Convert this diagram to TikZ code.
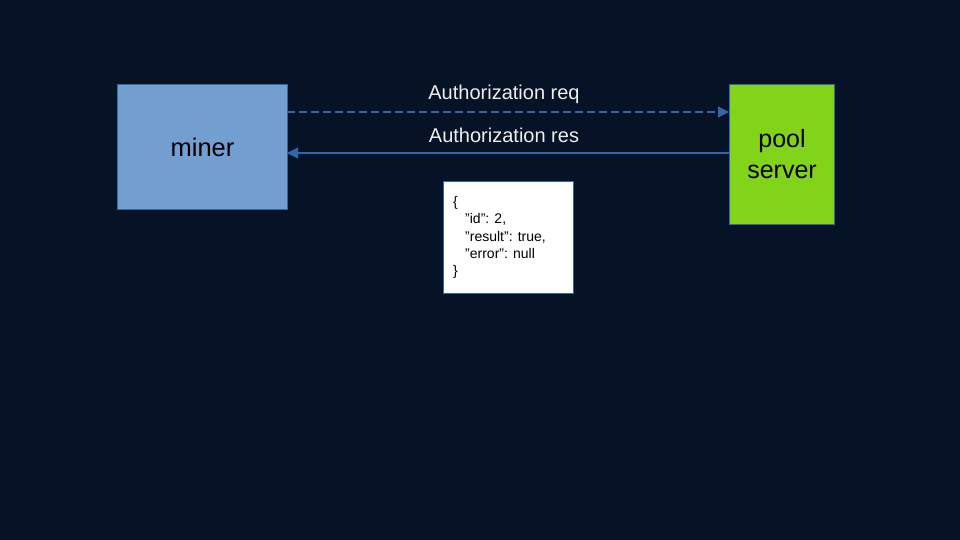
\documentclass[tikz,border=0pt]{standalone}
\usepackage{fontspec}
\setmainfont{Liberation Sans}
\usetikzlibrary{arrows.meta}
\definecolor{bg}{HTML}{061326}
\definecolor{minerfill}{HTML}{729FCF}
\definecolor{poolfill}{HTML}{81D41A}
\definecolor{edgeblue}{HTML}{3465A4}
\definecolor{labeltxt}{HTML}{EEEEEE}
\tikzset{
  box/.style={draw=edgeblue, line width=1pt, inner sep=0pt, anchor=north west, align=center},
  msg/.style={draw=edgeblue, line width=1.2pt, -{Triangle[length=11pt,width=11pt]}},
  msglabel/.style={text=labeltxt, font=\fontsize{20}{24}\selectfont, inner sep=0pt}
}
\begin{document}
\begin{tikzpicture}[x=1pt,y=-1pt]
\fill[bg] (0,0) rectangle (960,540);
\useasboundingbox (0,0) rectangle (960,540);
\node[box, fill=minerfill, minimum width=170pt, minimum height=125pt, font=\fontsize{25.5}{30}\selectfont] (miner) at (117,84) {miner};
\node[box, fill=poolfill, minimum width=105pt, minimum height=139.5pt, font=\fontsize{25}{31}\selectfont] (pool) at (729,84) {pool\\server};
\node[box, fill=white, minimum width=130pt, minimum height=112pt] (json) at (443,181) {};
\node[anchor=west, align=left, inner sep=0pt, font=\fontsize{14}{17.3}\selectfont] (jsontext) at ([xshift=10pt]json.west) {\{\\\hspace*{12pt}"id": 2,\\\hspace*{12pt}"result": true,\\\hspace*{12pt}"error": null\\\}};
\coordinate (reqA) at (287,112);
\coordinate (reqB) at (729,112);
\coordinate (resA) at (729,153);
\coordinate (resB) at (287,153);
\draw[msg, dash pattern=on 8pt off 4pt] (reqA) -- (reqB);
\draw[msg] (resA) -- (resB);
\node[msglabel] (reqlabel) at (504,94) {Authorization req};
\node[msglabel] (reslabel) at (504,135) {Authorization res};
\end{tikzpicture}
\end{document}
